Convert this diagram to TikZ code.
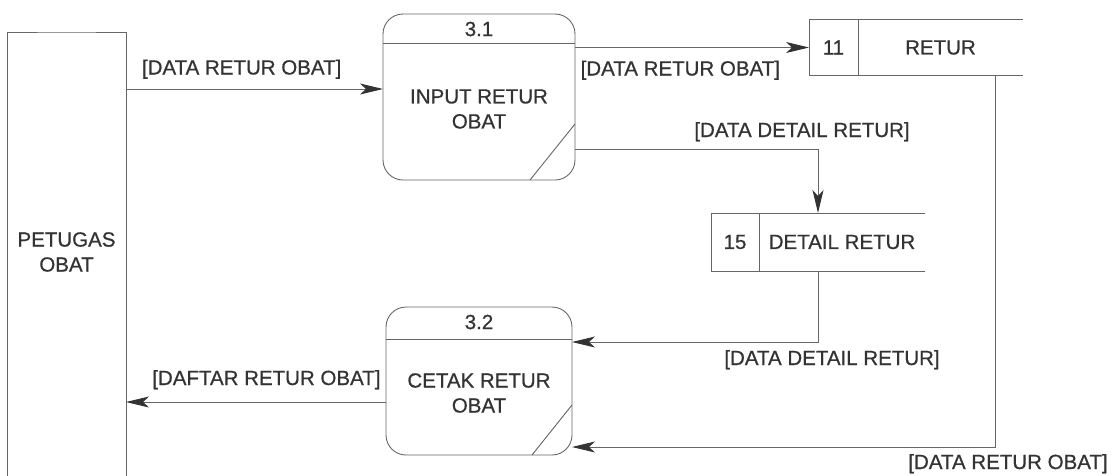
\documentclass[tikz,border=0pt]{standalone}
\usepackage{fontspec}
\setmainfont{Liberation Sans}
\newfontfamily\dfdfont{Liberation Sans}[FakeBold=0.7]
\usetikzlibrary{arrows.meta,positioning,calc}

\begin{document}
\begin{tikzpicture}[x=1pt, y=-1pt,
  >={Stealth[length=23pt,width=11pt,inset=6pt,color=black!80]},
  font=\dfdfont\fontsize{20.5}{25}\selectfont]
\tikzset{entity/.style = {rectangle, minimum width=119pt, minimum height=440pt,
    align=center, text=black!80, outer sep=0pt},
  process/.style = {draw=black!60, rectangle, rounded corners=20pt,
    line width=0.9pt, outer sep=0pt},
  procno/.style = {text=black!80},
  proctext/.style = {align=center, text=black!80},
  storeno/.style = {draw=black!60, rectangle, line width=0.9pt,
    text=black!80, minimum height=56pt, outer sep=0pt},
  storename/.style = {rectangle, text=black!80, minimum height=56pt, outer sep=0pt},
  edge/.style = {draw=black!60, line width=0.9pt},
  flow/.style = {edge, ->},
  lbl/.style = {inner sep=0pt, anchor=base, text=black!80}}

  \clip (0,0) rectangle (1119,475);

  % external entity, open at the bottom
  \node[entity] (petugas) at (66.5,252) {PETUGAS\\OBAT};
  \draw[edge] ([yshift=-10pt]petugas.south west) |- (petugas.north)
    -| ([yshift=-10pt]petugas.south east);

  % process 3.1
  \node[process, minimum width=192pt, minimum height=166pt] (input) at (479,97) {};
  \draw[edge] ([yshift=-29pt]input.north west) -- ([yshift=-29pt]input.north east);
  \draw[edge] ([xshift=-45pt]input.south east) -- ([yshift=56pt]input.south east);
  \node[procno] (inputno) at ([yshift=-15pt]input.north) {3.1};
  \node[proctext] (inputtxt) at ([yshift=-12pt]input.center) {INPUT RETUR\\OBAT};

  % process 3.2
  \node[process, minimum width=186pt, minimum height=148pt] (cetak) at (479,381) {};
  \draw[edge] ([yshift=-32pt]cetak.north west) -- ([yshift=-32pt]cetak.north east);
  \draw[edge] ([xshift=-40pt]cetak.south east) -- ([yshift=50pt]cetak.south east);
  \node[procno] (cetakno) at ([yshift=-15pt]cetak.north) {3.2};
  \node[proctext] (cetaktxt) at ([yshift=-12pt]cetak.center) {CETAK RETUR\\OBAT};

  % data stores
  \node[storeno, minimum width=49pt] (s11no) at (833.5,47.5) {11};
  \node[storename, minimum width=165pt, right=0pt of s11no] (retur) {RETUR};
  \draw[edge] (retur.north west) -- (retur.north east)
    (retur.south west) -- (retur.south east);

  \node[storeno, minimum width=48pt, minimum height=58pt] (s15no) at (735,242) {15};
  \node[storename, minimum width=166pt, minimum height=58pt, right=0pt of s15no]
    (detail) {DETAIL RETUR};
  \draw[edge] (detail.north west) -- (detail.north east)
    (detail.south west) -- (detail.south east);

  % data flows
  \coordinate (in1) at ([yshift=8pt]input.west);
  \draw[flow] (petugas.east |- in1) --
    node[lbl, pos=.45, yshift=14.5pt] (l1) {[DATA RETUR OBAT]} (in1);

  \draw[flow] (input.east |- s11no.west) --
    node[lbl, pos=.45, yshift=-28pt] (l2) {[DATA RETUR OBAT]} (s11no.west);

  \coordinate (d15) at ([xshift=-24pt]detail.north);
  \draw[flow] ([yshift=-52pt]input.east) -|
    node[lbl, pos=.5, xshift=-16pt, yshift=12pt] (l3) {[DATA DETAIL RETUR]} (d15);

  \coordinate (c1) at ([yshift=39pt]cetak.east);
  \draw[flow] ([xshift=-24pt]detail.south) |-
    node[lbl, pos=.5, xshift=14pt, yshift=-23pt] (l4) {[DATA DETAIL RETUR]} (c1);

  \coordinate (c2) at ([yshift=-21pt]cetak.west);
  \draw[flow] (c2) --
    node[lbl, pos=.46, yshift=17pt] (l5) {[DAFTAR RETUR OBAT]} (c2 -| petugas.east);

  \coordinate (c3) at ([yshift=-66pt]cetak.east);
  \draw[flow] ([xshift=54.5pt]retur.south) |-
    node[lbl, pos=.5, xshift=13pt, yshift=-22pt] (l6) {[DATA RETUR OBAT]} (c3);

\end{tikzpicture}
\end{document}
